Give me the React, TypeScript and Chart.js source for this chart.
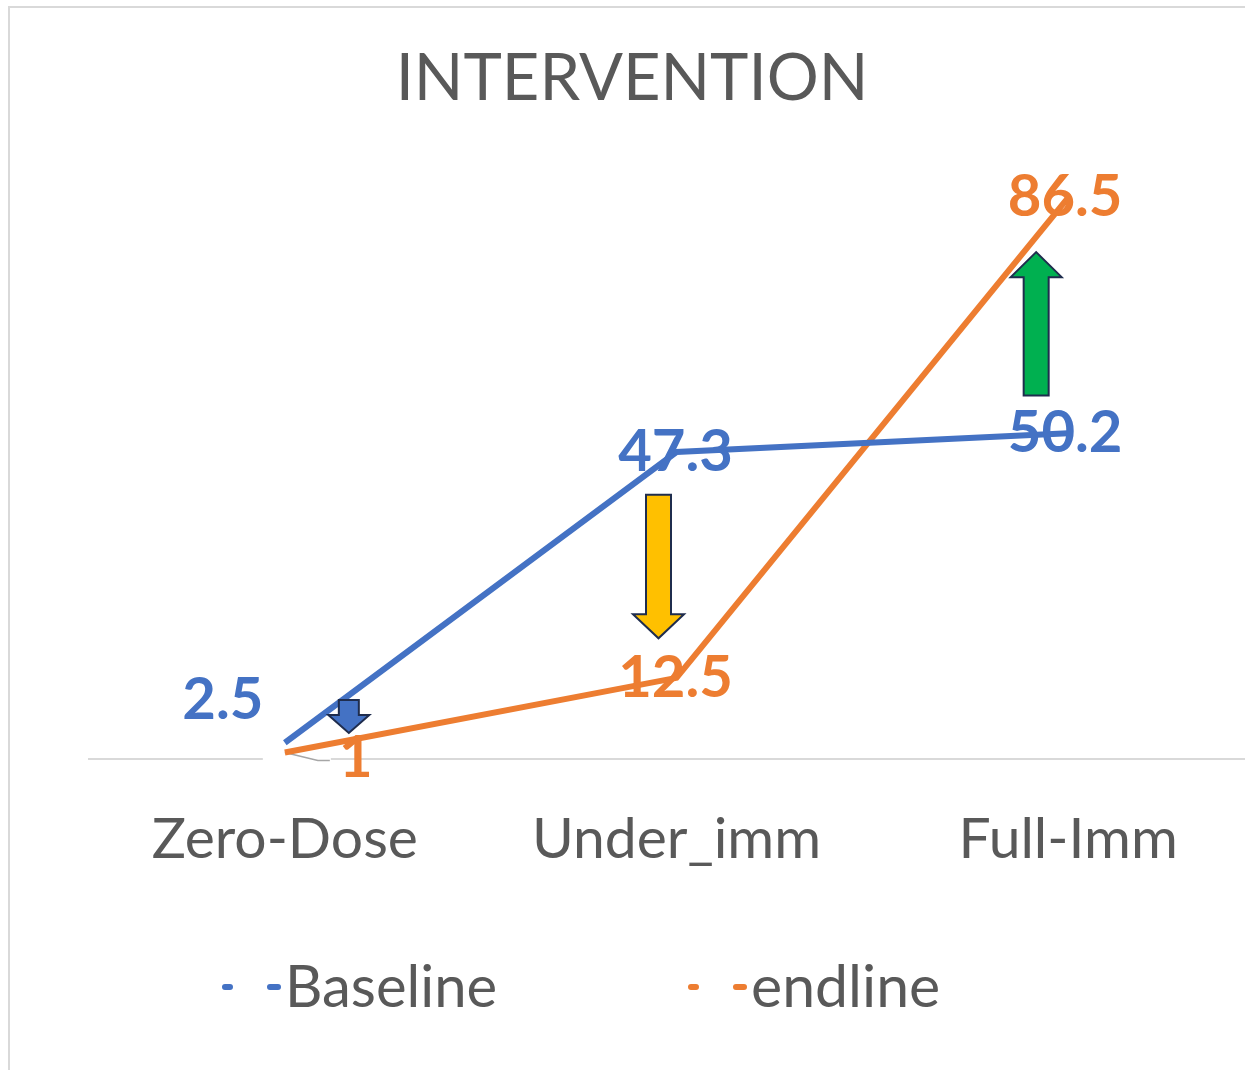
import React, { useEffect, useRef } from "react";
import { Chart, registerables } from "chart.js";

Chart.register(...registerables);

const categories = ["Zero-Dose", "Under_imm", "Full-Imm"];
const baseline = [2.5, 47.3, 50.2];
const endline = [1, 12.5, 86.5];
const seriesNames = ["Baseline", "endline"];
const titleText = "INTERVENTION";

const BLUE = "#4472C4";
const ORANGE = "#ED7D31";
const TEXT = "#595959";
const FONT = "Lato, 'Open Sans', sans-serif";

// annotation arrows: category index, from value, to value
const arrowCats = [0, 1, 2];
const arrowFrom = [9.1, 40.7, 56.0];
const arrowTo = [4.0, 18.6, 78.1];

const decorPlugin = {
  id: "decor",
  beforeDraw(chart: any) {
    const { ctx, width, height } = chart;
    ctx.save();
    ctx.fillStyle = "#fff";
    ctx.fillRect(0, 0, width, height);
    ctx.strokeStyle = "#d9d9d9";
    ctx.lineWidth = 2;
    ctx.beginPath();
    ctx.moveTo(9, height);
    ctx.lineTo(9, 7);
    ctx.lineTo(width, 7);
    ctx.stroke();
    // title
    ctx.fillStyle = TEXT;
    ctx.font = `65px ${FONT}`;
    ctx.textAlign = "center";
    ctx.textBaseline = "alphabetic";
    ctx.fillText(titleText, 632, 100);
    ctx.restore();
  },
  beforeDatasetsDraw(chart: any) {
    const { ctx } = chart;
    const meta = chart.getDatasetMeta(1);
    const p = meta.data[0];
    const axisY = chart.scales.x.top;
    ctx.save();
    // gap in axis line behind the moved label
    ctx.fillStyle = "#fff";
    ctx.fillRect(p.x - 22, axisY - 2, 68, 4);
    ctx.strokeStyle = "#a6a6a6";
    ctx.lineWidth = 1.5;
    ctx.beginPath();
    ctx.moveTo(p.x, p.y);
    ctx.lineTo(p.x + 33, p.y + 8);
    ctx.lineTo(p.x + 45, p.y + 8);
    ctx.stroke();
    ctx.restore();
  },
  afterDatasetsDraw(chart: any) {
    const { ctx } = chart;
    const xs = chart.scales.x;
    const ys = chart.scales.y;
    // arrows
    const xOff = [64, -18, -32];
    const shaftW = [20, 25, 25];
    const headW = [41, 51, 51];
    const headH = [18, 24, 25];
    const fills = [BLUE, "#FFC000", "#00B050"];
    arrowCats.forEach((c, i) => {
      const cx = xs.getPixelForValue(c) + xOff[i];
      const y0 = ys.getPixelForValue(arrowFrom[i]);
      const y1 = ys.getPixelForValue(arrowTo[i]);
      const dir = y1 > y0 ? 1 : -1;
      const sw = shaftW[i] / 2;
      const hw = headW[i] / 2;
      const hb = y1 - dir * headH[i];
      ctx.save();
      ctx.beginPath();
      ctx.moveTo(cx - sw, y0);
      ctx.lineTo(cx + sw, y0);
      ctx.lineTo(cx + sw, hb);
      ctx.lineTo(cx + hw, hb);
      ctx.lineTo(cx, y1);
      ctx.lineTo(cx - hw, hb);
      ctx.lineTo(cx - sw, hb);
      ctx.closePath();
      ctx.fillStyle = fills[i];
      ctx.fill();
      ctx.strokeStyle = "#1F2D4E";
      ctx.lineWidth = 2;
      ctx.lineJoin = "miter";
      ctx.stroke();
      ctx.restore();
    });
    // data labels
    const offsets = [
      [[-62, -42], [-1, 0], [-3, 0]],
      [[71, 6], [-1, 0], [-3, 0]],
    ];
    const colors = [BLUE, ORANGE];
    ctx.save();
    ctx.font = `bold 58px ${FONT}`;
    ctx.textAlign = "center";
    ctx.textBaseline = "middle";
    [0, 1].forEach((d) => {
      const meta = chart.getDatasetMeta(d);
      const vals = chart.data.datasets[d].data;
      meta.data.forEach((pt: any, i: number) => {
        ctx.fillStyle = colors[d];
        ctx.fillText(String(vals[i]), pt.x + offsets[d][i][0], pt.y + offsets[d][i][1]);
      });
    });
    ctx.restore();
  },
  afterDraw(chart: any) {
    const { ctx } = chart;
    ctx.save();
    ctx.textBaseline = "alphabetic";
    const y = 987;
    const starts = [222, 688];
    const sizes = [58, 59];
    const colors = [BLUE, ORANGE];
    seriesNames.forEach((name, i) => {
      const x = starts[i];
      ctx.strokeStyle = colors[i];
      ctx.lineWidth = 6;
      ctx.lineCap = "round";
      ctx.beginPath();
      ctx.moveTo(x + 3, y);
      ctx.lineTo(x + 8, y);
      ctx.moveTo(x + 48, y);
      ctx.lineTo(x + 56, y);
      ctx.stroke();
      ctx.fillStyle = TEXT;
      ctx.textAlign = "left";
      ctx.font = `${sizes[i]}px ${FONT}`;
      ctx.fillText(name, x + 63, 1007);
    });
    ctx.restore();
  },
};

export default function App() {
  const ref = useRef<HTMLCanvasElement>(null);
  useEffect(() => {
    if (!ref.current) return;
    const chart = new Chart(ref.current, {
      type: "line",
      data: {
        labels: categories,
        datasets: [
          {
            label: seriesNames[0],
            data: baseline,
            borderColor: BLUE,
            backgroundColor: BLUE,
            borderWidth: 6,
            pointRadius: 0,
            tension: 0,
          },
          {
            label: seriesNames[1],
            data: endline,
            borderColor: ORANGE,
            backgroundColor: ORANGE,
            borderWidth: 6,
            pointRadius: 0,
            tension: 0,
          },
        ],
      },
      options: {
        responsive: false,
        animation: false,
        devicePixelRatio: 1,
        layout: { padding: { top: 110, right: 0, bottom: 199, left: 0 }, autoPadding: false },
        plugins: {
          legend: { display: false },
          tooltip: { enabled: false },
          title: { display: false },
        },
        scales: {
          x: {
            offset: true,
            grid: { display: false, drawTicks: false },
            border: { display: true, color: "#d9d9d9", width: 2 },
            ticks: {
              color: TEXT,
              padding: 46,
              font: { family: FONT, size: 57, lineHeight: 1.2 },
              maxRotation: 0,
              autoSkip: false,
            },
            afterFit: (s: any) => {
              s.height = 112;
            },
          },
          y: {
            min: 0,
            max: 100,
            display: true,
            grid: { display: false, drawTicks: false },
            border: { display: false },
            ticks: { display: false },
            afterFit: (s: any) => {
              s.width = 89;
            },
          },
        },
      },
      plugins: [decorPlugin],
    });
    return () => chart.destroy();
  }, []);
  return (
    <div
      style={{
        position: "absolute",
        left: 0,
        top: 0,
        width: 1245,
        height: 1070,
        overflow: "hidden",
        background: "#fff",
      }}
    >
      <canvas ref={ref} width={1264} height={1070} style={{ display: "block" }} />
    </div>
  );
}
